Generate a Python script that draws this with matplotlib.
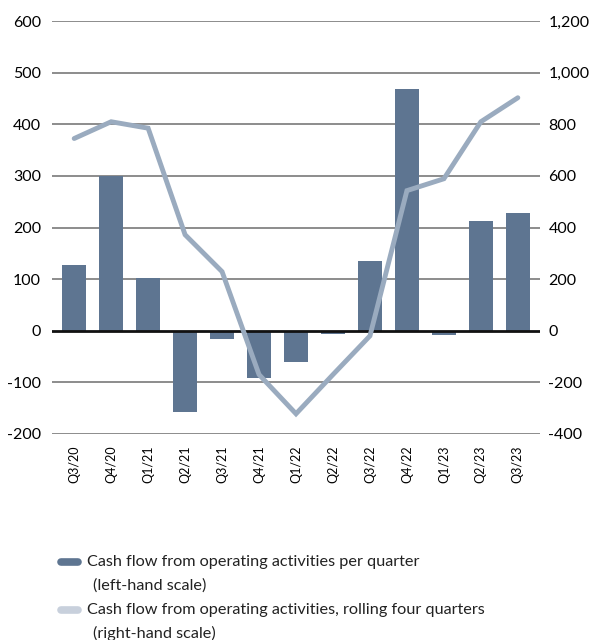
import matplotlib
matplotlib.use("Agg")
from matplotlib import pyplot as plt
from matplotlib.lines import Line2D

quarters = ["Q3/20", "Q4/20", "Q1/21", "Q2/21", "Q3/21", "Q4/21", "Q1/22",
            "Q2/22", "Q3/22", "Q4/22", "Q1/23", "Q2/23", "Q3/23"]
per_quarter = [128, 300, 103, -157, -16, -92, -60, -6, 136, 469, -9, 213, 229]
rolling = [745, 810, 785, 372, 229, -170, -322, -170, -20, 543, 589, 810, 903]

bar_color = "#5e7591"
line_color = "#9aabbf"
legend_line_color = "#c8d0dc"

plt.rcParams['font.family'] = ['Lato', 'DejaVu Sans']
plt.rcParams['font.size'] = 11
plt.rcParams['axes.unicode_minus'] = False

fig = plt.figure(figsize=(5.95, 6.4), dpi=100)
ax = fig.add_axes([0.0874, 0.322, 0.8202, 0.645])
ax2 = ax.twinx()

x = list(range(len(quarters)))
ax.bar(x, per_quarter, width=0.66, color=bar_color, zorder=3)
ax.set_ylim(-200, 600)
ax.set_yticks(range(-200, 601, 100))
ax.set_xlim(-0.6, len(quarters) - 0.4)
for v in range(-200, 601, 100):
    if v == 0:
        continue
    ax.axhline(v, color="#6e6e6e", lw=1.1, zorder=1)
ax.axhline(0, color="#111111", lw=2.0, zorder=4)

ax2.plot(x, rolling, color=line_color, lw=3.5, solid_capstyle="round",
         solid_joinstyle="miter", zorder=5)
ax2.set_ylim(-400, 1200)
ax2.set_yticks(range(-400, 1201, 200))
ax2.set_yticklabels([f"{v:,}" for v in range(-400, 1201, 200)])

ax.set_xticks(x)
ax.set_xticklabels(quarters, rotation=90, fontsize=9)
ax.tick_params(axis="x", length=0, pad=8)
ax.tick_params(axis="y", length=0, pad=8, labelsize=11.5)
ax2.tick_params(axis="y", length=0, pad=6, labelsize=11.5)
for a in (ax, ax2):
    for s in a.spines.values():
        s.set_visible(False)

# legend drawn by hand to match line spacing
W, H = 595.0, 640.0
legend_rows = [
    (562, bar_color, "Cash flow from operating activities per quarter", 586, "(left-hand scale)"),
    (610, legend_line_color, "Cash flow from operating activities, rolling four quarters", 633, "(right-hand scale)"),
]
for y1, col, txt1, y2, txt2 in legend_rows:
    fig.add_artist(Line2D([61 / W, 78 / W], [1 - y1 / H, 1 - y1 / H], color=col,
                          lw=5.5, solid_capstyle="round"))
    fig.text(87 / W, 1 - y1 / H, txt1, fontsize=11.7, va="center", ha="left", color="#222222")
    fig.text(93 / W, 1 - y2 / H, txt2, fontsize=11.7, va="center", ha="left", color="#222222")

fig.savefig("out.png", dpi=100)
